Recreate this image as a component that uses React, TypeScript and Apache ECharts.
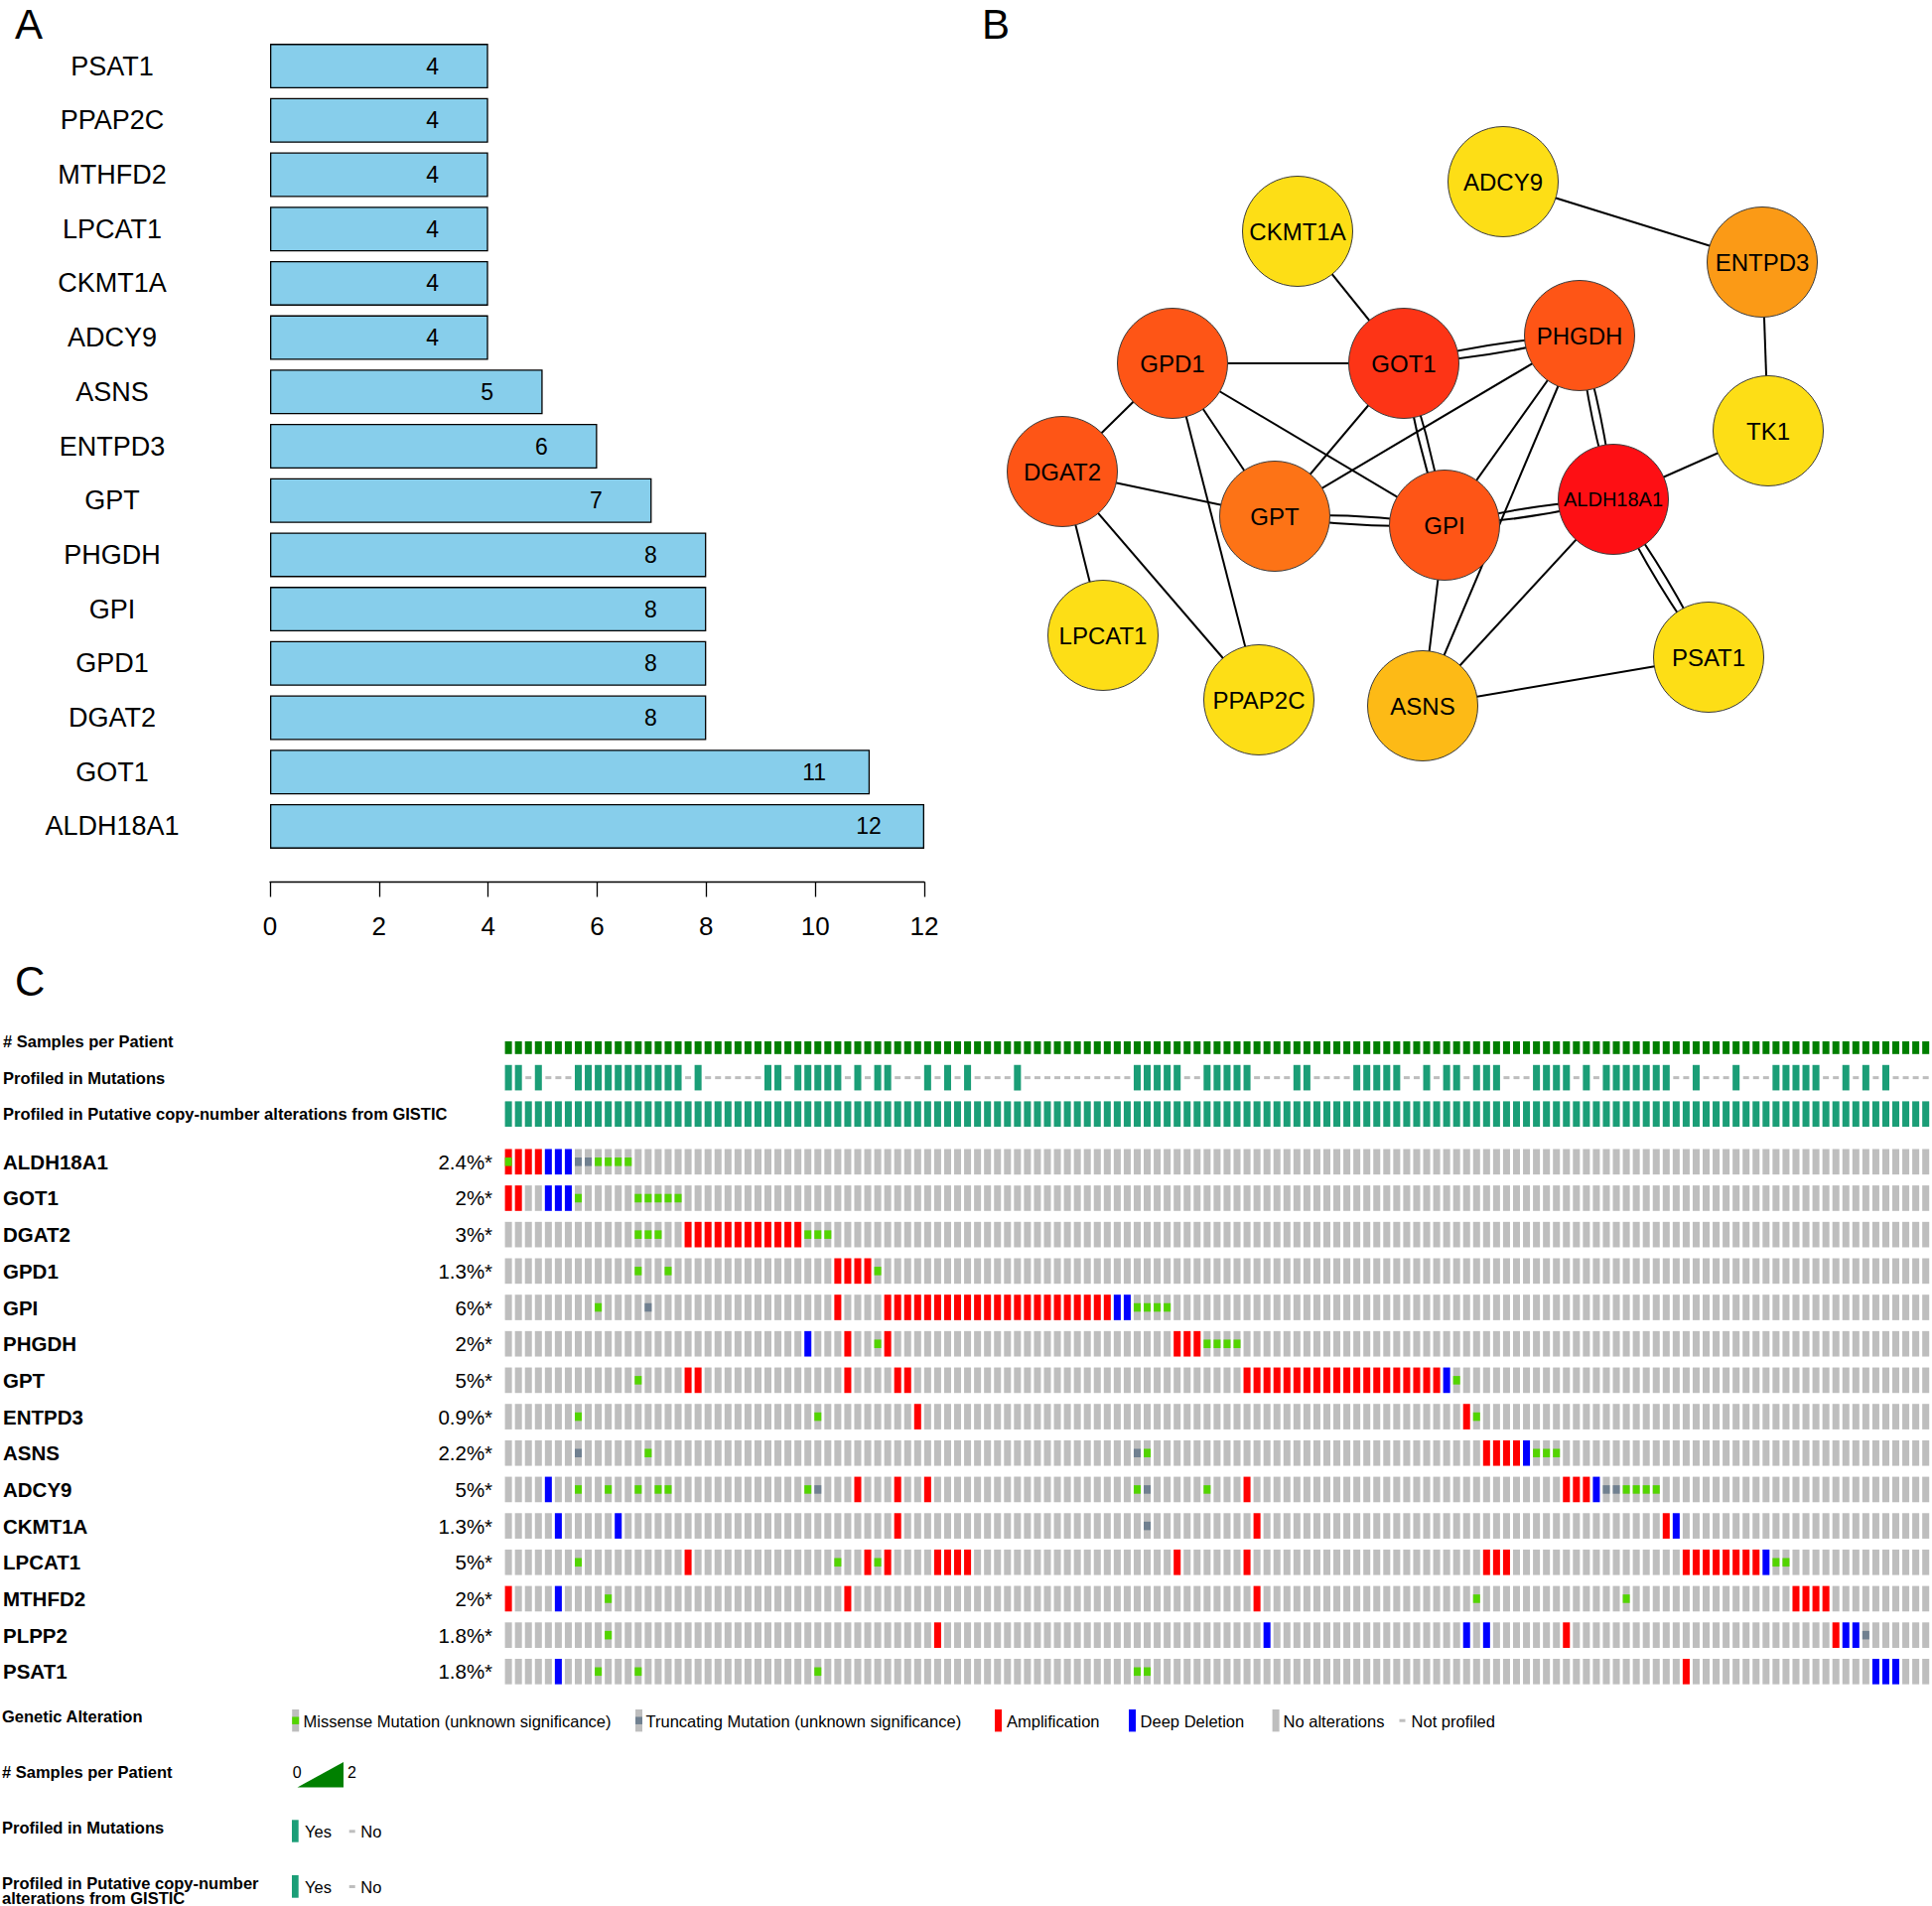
import React, { useEffect, useRef } from "react";
import * as echarts from "echarts";

const FONT = '"Liberation Sans", Arial, Helvetica, sans-serif';

// ---------------- Panel A : node degree ----------------
const hubGenes = ["PSAT1", "PPAP2C", "MTHFD2", "LPCAT1", "CKMT1A", "ADCY9", "ASNS", "ENTPD3", "GPT", "PHGDH", "GPI", "GPD1", "DGAT2", "GOT1", "ALDH18A1"];
const hubDegree = [4, 4, 4, 4, 4, 4, 5, 6, 7, 8, 8, 8, 8, 11, 12];
const degreeAxisMin = 0;
const degreeAxisMax = 12;
const degreeAxisStep = 2;

// ---------------- Panel B : PPI network ----------------
const netNodes = ["ADCY9", "CKMT1A", "ENTPD3", "PHGDH", "GOT1", "GPD1", "TK1", "DGAT2", "ALDH18A1", "GPT", "GPI", "LPCAT1", "PSAT1", "PPAP2C", "ASNS"];
const netX = [1514, 1307, 1775, 1591, 1414, 1181, 1781, 1070, 1625, 1284, 1455, 1111, 1721, 1268, 1433];
const netY = [183, 233, 264, 338, 366, 366, 434, 475, 503, 520, 529, 640, 662, 705, 711];
const netColors = ["#FDDE16", "#FDDE16", "#FB9A16", "#FE5516", "#FD3416", "#FE5516", "#FDDE16", "#FE5516", "#FE0F14", "#FD7316", "#FE5516", "#FDDE16", "#FDDE16", "#FDDE16", "#FDBA16"];
const netEdges: [string, string][] = [
  ["ADCY9", "ENTPD3"], ["ENTPD3", "TK1"], ["TK1", "ALDH18A1"], ["CKMT1A", "GOT1"],
  ["GPD1", "GOT1"], ["GOT1", "PHGDH"], ["GOT1", "PHGDH"], ["GPD1", "DGAT2"],
  ["GPD1", "GPT"], ["GPD1", "GPI"], ["GPD1", "PPAP2C"], ["DGAT2", "GPT"],
  ["DGAT2", "LPCAT1"], ["DGAT2", "PPAP2C"], ["GOT1", "GPT"], ["GOT1", "GPI"], ["GOT1", "GPI"],
  ["PHGDH", "GPT"], ["PHGDH", "GPI"], ["PHGDH", "ASNS"], ["PHGDH", "ALDH18A1"], ["PHGDH", "ALDH18A1"],
  ["GPT", "GPI"], ["GPT", "GPI"], ["GPI", "ALDH18A1"], ["GPI", "ALDH18A1"], ["GPI", "ASNS"],
  ["ALDH18A1", "ASNS"], ["ALDH18A1", "PSAT1"], ["ALDH18A1", "PSAT1"], ["ASNS", "PSAT1"],
];

// ---------------- Panel C : oncoprint ----------------
const N_PATIENTS = 143;
const trackNames = ["# Samples per Patient", "Profiled in Mutations", "Profiled in Putative copy-number alterations from GISTIC"];
const samplesPerPatient = new Array(N_PATIENTS).fill(1);
const mutNotProfiled = [2, 4, 5, 6, 18, 20, 21, 22, 23, 24, 25, 28, 34, 36, 39, 40, 41, 43, 45, 47, 48, 49, 50, 52, 53, 54, 55, 56, 57, 58, 59, 60, 61, 62, 68, 69, 75, 76, 77, 78, 81, 82, 83, 84, 90, 91, 93, 96, 100, 101, 102, 107, 109, 117, 118, 120, 121, 122, 124, 125, 126, 132, 133, 135, 137, 139, 140, 141, 142];
const cnaNotProfiled: number[] = [];

const oncoGenes = ["ALDH18A1", "GOT1", "DGAT2", "GPD1", "GPI", "PHGDH", "GPT", "ENTPD3", "ASNS", "ADCY9", "CKMT1A", "LPCAT1", "MTHFD2", "PLPP2", "PSAT1"];
const alteredPct = ["2.4%*", "2%*", "3%*", "1.3%*", "6%*", "2%*", "5%*", "0.9%*", "2.2%*", "5%*", "1.3%*", "5%*", "2%*", "1.8%*", "1.8%*"];
const ampCols = [
  [0, 1, 2, 3],
  [0, 1],
  [18, 19, 20, 21, 22, 23, 24, 25, 26, 27, 28, 29],
  [33, 34, 35, 36],
  [33, 38, 39, 40, 41, 42, 43, 44, 45, 46, 47, 48, 49, 50, 51, 52, 53, 54, 55, 56, 57, 58, 59, 60],
  [34, 38, 67, 68, 69],
  [18, 19, 34, 39, 40, 74, 75, 76, 77, 78, 79, 80, 81, 82, 83, 84, 85, 86, 87, 88, 89, 90, 91, 92, 93],
  [41, 96],
  [98, 99, 100, 101],
  [35, 39, 42, 74, 106, 107, 108],
  [39, 75, 116],
  [18, 36, 38, 43, 44, 45, 46, 67, 74, 98, 99, 100, 118, 119, 120, 121, 122, 123, 124, 125],
  [0, 34, 75, 129, 130, 131, 132],
  [43, 106, 133],
  [118],
];
const delCols = [
  [4, 5, 6], [4, 5, 6], [], [], [61, 62], [30], [94], [], [102], [4, 109], [5, 11, 117], [126], [5], [76, 96, 98, 134, 135], [5, 137, 138, 139],
];
const missenseCols = [
  [0, 9, 10, 11, 12],
  [7, 13, 14, 15, 16, 17],
  [13, 14, 15, 30, 31, 32],
  [13, 16, 37],
  [9, 63, 64, 65, 66],
  [37, 70, 71, 72, 73],
  [13, 95],
  [7, 31, 97],
  [14, 64, 103, 104, 105],
  [7, 10, 13, 15, 16, 30, 63, 70, 112, 113, 114, 115],
  [],
  [7, 33, 37, 127, 128],
  [10, 97, 112],
  [10],
  [9, 13, 31, 63, 64],
];
const truncCols = [
  [7, 8], [], [], [], [14], [], [], [], [7, 63], [31, 64, 110, 111], [64], [], [], [136], [],
];

const C_GRAY = "#bebebe";
const C_AMP = "#ff0000";
const C_DEL = "#0000ff";
const C_MIS = "#53d400";
const C_TRUNC = "#708090";
const C_PROF = "#1b9e77";
const C_SAMPLE = "#007f00";

function buildOption() {
  const cols = Array.from({ length: N_PATIENTS }, (_, i) => String(i));

  const baseData: number[][] = [];
  const mutData: number[][] = [];
  oncoGenes.forEach((_, r) => {
    for (let c = 0; c < N_PATIENTS; c++) {
      let k = 0;
      if (ampCols[r].includes(c)) k = 1;
      else if (delCols[r].includes(c)) k = 2;
      baseData.push([c, r, k]);
    }
    missenseCols[r].forEach((c) => mutData.push([c, r, 0]));
    truncCols[r].forEach((c) => mutData.push([c, r, 1]));
  });

  const trackData: number[][] = [];
  for (let c = 0; c < N_PATIENTS; c++) {
    trackData.push([c, 0, 0, samplesPerPatient[c]]);
    trackData.push([c, 1, mutNotProfiled.includes(c) ? 2 : 1, 1]);
    trackData.push([c, 2, cnaNotProfiled.includes(c) ? 2 : 1, 1]);
  }

  const pairCount: Record<string, number> = {};
  const links = netEdges.map(([s, t]) => {
    const key = [s, t].sort().join("|");
    const n = pairCount[key] || 0;
    pairCount[key] = n + 1;
    const dup = netEdges.filter(([a, b]) => [a, b].sort().join("|") === key).length > 1;
    return { source: s, target: t, lineStyle: { curveness: dup ? (n === 0 ? 0.05 : -0.05) : 0 } };
  });

  const txt = (text: string, x: number, y: number, size: number, bold = false, align = "left") => ({
    type: "text",
    x,
    y,
    style: {
      text,
      fill: "#000",
      font: `${bold ? "bold " : ""}${size}px ${FONT}`,
      align,
      verticalAlign: "middle",
    },
  });
  const rect = (x: number, y: number, w: number, h: number, fill: string) => ({
    type: "rect",
    shape: { x, y, width: w, height: h },
    style: { fill },
  });

  const legendTop = 1722;
  const legendH = 22.4;
  const legendItems: any[] = [
    txt("A", 15, 24, 42),
    txt("B", 989, 24, 42),
    txt("C", 15, 988, 42),
    txt("Genetic Alteration", 2, 1729, 16.5, true),
    rect(294.2, legendTop, 7, legendH, C_GRAY),
    rect(294.2, legendTop + legendH / 3, 7, legendH / 3, C_MIS),
    txt("Missense Mutation (unknown significance)", 305.5, 1733.5, 16.5),
    rect(640, legendTop, 7, legendH, C_GRAY),
    rect(640, legendTop + legendH / 3, 7, legendH / 3, C_TRUNC),
    txt("Truncating Mutation (unknown significance)", 650.5, 1733.5, 16.5),
    rect(1002, legendTop, 7, legendH, C_AMP),
    txt("Amplification", 1014, 1733.5, 16.5),
    rect(1137, legendTop, 7, legendH, C_DEL),
    txt("Deep Deletion", 1148.6, 1733.5, 16.5),
    rect(1281.6, legendTop, 7, legendH, C_GRAY),
    txt("No alterations", 1292.6, 1733.5, 16.5),
    rect(1409.5, legendTop + legendH / 2 - 1.5, 6, 3, C_GRAY),
    txt("Not profiled", 1421.6, 1733.5, 16.5),

    txt("# Samples per Patient", 2, 1785, 16.5, true),
    txt("0", 294.7, 1785.7, 16),
    {
      type: "polygon",
      shape: { points: [[299.5, 1800.5], [346, 1775], [346, 1800.5]] },
      style: { fill: "#008000" },
    },
    txt("2", 350, 1785.7, 16),

    txt("Profiled in Mutations", 2, 1841, 16.5, true),
    rect(294, 1833.3, 6.7, 22.4, C_PROF),
    txt("Yes", 307, 1845, 16.5),
    rect(351.7, 1843.3, 6, 3, C_GRAY),
    txt("No", 363.3, 1845, 16.5),

    txt("Profiled in Putative copy-number", 2, 1896.7, 16.5, true),
    txt("alterations from GISTIC", 2, 1911.7, 16.5, true),
    rect(294, 1889, 6.7, 22.7, C_PROF),
    txt("Yes", 307, 1900.7, 16.5),
    rect(351.7, 1899, 6, 3, C_GRAY),
    txt("No", 363.3, 1900.7, 16.5),
  ];

  const hiddenAxis = { show: false };
  const onco = { left: 506.1, width: 1438.6 };

  return {
    animation: false,
    backgroundColor: "#ffffff",
    textStyle: { fontFamily: FONT },
    grid: [
      { left: 272, top: 39.25, width: 659, height: 820.5 },
      { left: onco.left, width: onco.width, top: 1030.7, height: 109.8 },
      { left: onco.left, width: onco.width, top: 1151.96, height: 550.2 },
    ],
    xAxis: [
      {
        gridIndex: 0,
        type: "value",
        min: degreeAxisMin,
        max: degreeAxisMax,
        interval: degreeAxisStep,
        offset: 28.75,
        axisLine: { show: true, lineStyle: { color: "#000", width: 1.3 } },
        axisTick: { show: true, length: 15, lineStyle: { color: "#000", width: 1.3 } },
        axisLabel: { fontSize: 26, color: "#000", margin: 31, fontFamily: FONT },
        splitLine: { show: false },
      },
      { gridIndex: 1, type: "category", data: cols, ...hiddenAxis },
      { gridIndex: 2, type: "category", data: cols, ...hiddenAxis },
    ],
    yAxis: [
      {
        gridIndex: 0,
        type: "category",
        position: "left",
        data: hubGenes,
        inverse: true,
        axisLine: { show: false },
        axisTick: { show: false },
        axisLabel: { fontSize: 27, color: "#000", align: "center", margin: 159, interval: 0, fontFamily: FONT },
      },
      {
        gridIndex: 1,
        type: "category",
        position: "left",
        data: trackNames,
        inverse: true,
        axisLine: { show: false },
        axisTick: { show: false },
        axisLabel: { fontSize: 16.5, fontWeight: "bold", color: "#000", align: "left", margin: 504.1, interval: 0, fontFamily: FONT },
      },
      {
        gridIndex: 2,
        type: "category",
        position: "left",
        data: oncoGenes,
        inverse: true,
        axisLine: { show: false },
        axisTick: { show: false },
        axisLabel: { fontSize: 20.5, fontWeight: "bold", color: "#000", align: "left", margin: 504.1, interval: 0, fontFamily: FONT },
      },
      {
        gridIndex: 2,
        type: "category",
        position: "left",
        offset: 0,
        data: oncoGenes,
        inverse: true,
        axisLine: { show: false },
        axisTick: { show: false },
        axisLabel: {
          fontSize: 20.5,
          color: "#000",
          align: "right",
          margin: 11,
          interval: 0,
          fontFamily: FONT,
          formatter: (_v: string, i: number) => alteredPct[i],
        },
      },
    ],
    series: [
      {
        type: "bar",
        xAxisIndex: 0,
        yAxisIndex: 0,
        data: hubDegree,
        barWidth: 45,
        itemStyle: { color: "#87CEEB", borderColor: "#000", borderWidth: 1.3 },
        label: {
          show: true,
          position: "insideRight",
          distance: 56,
          align: "center",
          fontSize: 23,
          color: "#000",
          fontFamily: FONT,
        },
      },
      {
        type: "graph",
        layout: "none",
        left: 1070,
        top: 183,
        width: 711,
        height: 528,
        roam: false,
        silent: true,
        symbol: "circle",
        symbolSize: 111,
        data: netNodes.map((n, i) => ({
          name: n,
          x: netX[i],
          y: netY[i],
          itemStyle: { color: netColors[i], borderColor: "#3a3a3a", borderWidth: 1 },
          label: n === "ALDH18A1" ? { fontSize: 20 } : undefined,
        })),
        links,
        lineStyle: { color: "#000", width: 2, opacity: 1 },
        label: { show: true, position: "inside", fontSize: 24, color: "#000", fontFamily: FONT },
      },
      {
        type: "custom",
        xAxisIndex: 1,
        yAxisIndex: 1,
        data: trackData,
        renderItem: (_p: any, api: any) => {
          const c = api.value(0);
          const r = api.value(1);
          const k = api.value(2);
          const v = api.value(3);
          const pt = api.coord([c, r]);
          const sz = api.size([1, 1]);
          const w = sz[0] * 0.7;
          const h = sz[1] * 0.7;
          if (k === 0) {
            const bh = (h * v) / 2;
            return { type: "rect", shape: { x: pt[0] - w / 2, y: pt[1] + h / 2 - bh, width: w, height: bh }, style: { fill: C_SAMPLE } };
          }
          if (k === 1) {
            return { type: "rect", shape: { x: pt[0] - w / 2, y: pt[1] - h / 2, width: w, height: h }, style: { fill: C_PROF } };
          }
          return { type: "rect", shape: { x: pt[0] - 3, y: pt[1] - 1.5, width: 6, height: 3 }, style: { fill: C_GRAY } };
        },
      },
      {
        type: "custom",
        xAxisIndex: 2,
        yAxisIndex: 2,
        data: baseData,
        renderItem: (_p: any, api: any) => {
          const c = api.value(0);
          const r = api.value(1);
          const k = api.value(2);
          const pt = api.coord([c, r]);
          const sz = api.size([1, 1]);
          const w = sz[0] * 0.7;
          const h = sz[1] * 0.7;
          const fill = k === 1 ? C_AMP : k === 2 ? C_DEL : C_GRAY;
          return { type: "rect", shape: { x: pt[0] - w / 2, y: pt[1] - h / 2, width: w, height: h }, style: { fill } };
        },
      },
      {
        type: "custom",
        xAxisIndex: 2,
        yAxisIndex: 2,
        data: mutData,
        z: 3,
        renderItem: (_p: any, api: any) => {
          const c = api.value(0);
          const r = api.value(1);
          const k = api.value(2);
          const pt = api.coord([c, r]);
          const sz = api.size([1, 1]);
          const w = sz[0] * 0.7;
          const h = sz[1] * 0.7;
          return {
            type: "rect",
            shape: { x: pt[0] - w / 2, y: pt[1] - h / 6, width: w, height: h / 3 },
            style: { fill: k === 0 ? C_MIS : C_TRUNC },
          };
        },
      },
    ],
    graphic: legendItems,
  };
}

export default function App() {
  const ref = useRef<HTMLDivElement>(null);
  useEffect(() => {
    if (!ref.current) return;
    const chart = echarts.init(ref.current, null, { renderer: "svg" });
    chart.setOption(buildOption() as any);
    return () => chart.dispose();
  }, []);
  return (
    <div
      ref={ref}
      style={{ position: "absolute", left: 0, top: 0, width: 1946, height: 1920, background: "#ffffff" }}
    />
  );
}
